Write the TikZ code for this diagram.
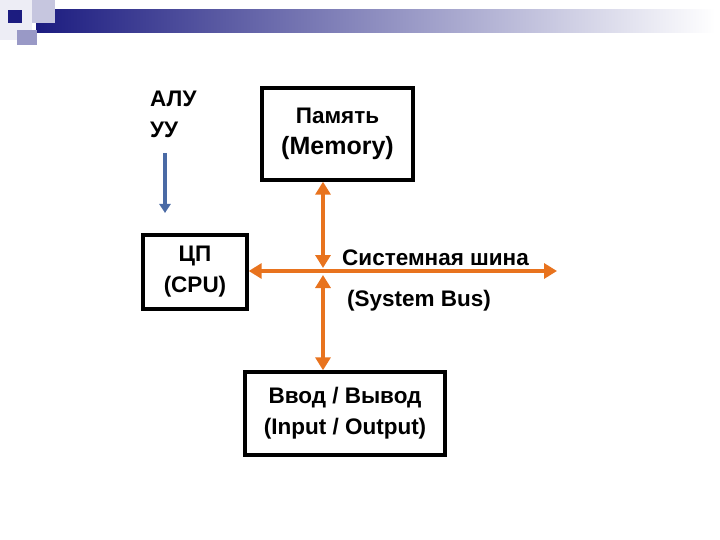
\documentclass[tikz,border=0pt]{standalone}
\usepackage{fontspec}
\setmainfont{Liberation Sans}
\usetikzlibrary{arrows.meta, positioning}

\definecolor{busorange}{HTML}{E8731E}
\definecolor{arrblue}{HTML}{4A6AA5}
\definecolor{navy}{HTML}{1C1C80}

\begin{document}
\begin{tikzpicture}[
    x=1pt, y=-1pt,
    every node/.style={font=\bfseries\fontsize{22.5}{31}\selectfont},
    unit/.style={draw, line width=3.4pt, align=center, fill=white, inner sep=0pt},
    bus/.style={{Triangle[width=15pt,length=13pt]}-{Triangle[width=15pt,length=13pt]}, line width=3.6pt, busorange},
    down/.style={-{Triangle[width=11pt,length=9pt]}, line width=4pt, arrblue},
    label/.style={anchor=west, inner sep=0pt}
]
    \useasboundingbox (0,0) rectangle (720,540);

    % Header decoration
    \fill[navy!8] (0,0) rectangle (32,40);
    \shade[left color=navy, right color=white] (36,10) rectangle (715,33);
    \fill[navy!25] (32,0) rectangle (55,23);
    \fill[navy!45] (17,30) rectangle (37,45);
    \fill[navy] (8,10) rectangle (22,23);

    % Units
    \node (mem) [unit, minimum width=151pt, minimum height=92pt] at (337.5,134) {Память\\{\fontsize{25}{31}\selectfont(Memory)}};
    \node (cpu) [unit, minimum width=104pt, minimum height=74pt] at (195,272) {ЦП\\(CPU)};
    \node (io)  [unit, minimum width=200pt, minimum height=83pt] at (345,413.5) {Ввод / Вывод\\(Input / Output)};

    % ALU / CU
    \node (alu) [anchor=north west, align=left, inner sep=0pt] at (150,91) {АЛУ\\УУ};
    \coordinate (alutop) at (165,153);
    \coordinate (alubot) at (165,213);
    \draw [down] (alutop) -- (alubot);

    % System bus
    \coordinate (jtop) at (323,268);
    \coordinate (jbot) at (323,275);
    \coordinate (busend) at (557,271);
    \draw [bus] (cpu.east |- busend) -- (busend);
    \draw [bus] (mem.south -| jtop) -- (jtop);
    \draw [bus] (jbot) -- (io.north -| jbot);

    \node (busname) [label] at (342,258) {Системная шина};
    \node (busen)   [label] at (347,301) {(System Bus)};
\end{tikzpicture}
\end{document}
